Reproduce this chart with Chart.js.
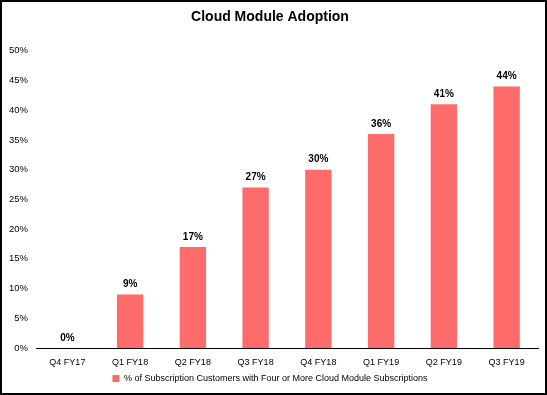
<!DOCTYPE html>
<html>
<head>
<meta charset="utf-8">
<script src="https://cdn.jsdelivr.net/npm/chart.js@4"></script>
<style>
  html, body { margin: 0; padding: 0; background: #fff; }
  .frame { width: 547px; height: 395px; box-sizing: border-box; border: 2px solid #000; }
  canvas { display: block; }
</style>
</head>
<body>
<div class="frame"><canvas id="chart" width="543" height="391"></canvas></div>
<script>
// ── Data ──────────────────────────────────────────────
const quarters = ['Q4 FY17', 'Q1 FY18', 'Q2 FY18', 'Q3 FY18', 'Q4 FY18', 'Q1 FY19', 'Q2 FY19', 'Q3 FY19'];
const adoptionPct = [0, 9, 17, 27, 30, 36, 41, 44];
const seriesName = '% of Subscription Customers with Four or More Cloud Module Subscriptions';
const yTicks = [0, 5, 10, 15, 20, 25, 30, 35, 40, 45, 50];

const FONT = "'Liberation Sans', Arial, Helvetica, sans-serif";
const BAR = '#fd6b6b';

// ── Value labels above bars ───────────────────────────
const valueLabels = {
  id: 'valueLabels',
  afterDatasetsDraw(chart) {
    const { ctx } = chart;
    const meta = chart.getDatasetMeta(0);
    ctx.save();
    ctx.font = `bold 10px ${FONT}`;
    ctx.fillStyle = '#000';
    ctx.textAlign = 'center';
    ctx.textBaseline = 'bottom';
    meta.data.forEach((bar, i) => {
      ctx.fillText(`${adoptionPct[i]}%`, bar.x, bar.y - 5);
    });
    ctx.restore();
  }
};

new Chart(document.getElementById('chart'), {
  type: 'bar',
  data: {
    labels: quarters,
    datasets: [{
      label: seriesName,
      data: adoptionPct,
      backgroundColor: BAR,
      borderWidth: 0,
      categoryPercentage: 0.84,
      barPercentage: 0.5
    }]
  },
  options: {
    responsive: false,
    animation: false,
    layout: { padding: { left: 0, right: 7, top: 0, bottom: 0 } },
    plugins: {
      title: {
        display: true,
        text: 'Cloud Module Adoption',
        color: '#000',
        font: { family: FONT, size: 14, weight: 'bold' },
        padding: { top: 7, bottom: 25 }
      },
      legend: {
        position: 'bottom',
        labels: {
          color: '#000',
          font: { family: FONT, size: 9 },
          boxWidth: 7,
          boxHeight: 7,
          padding: 2
        }
      },
      tooltip: { enabled: false }
    },
    scales: {
      x: {
        afterFit: s => { s.height = 24; },
        grid: { display: false, drawTicks: false },
        border: { display: true, color: '#000', width: 1 },
        ticks: { color: '#000', font: { family: FONT, size: 9 }, padding: 9, maxRotation: 0 }
      },
      y: {
        min: 0,
        max: 50,
        afterFit: s => { s.width = 34; },
        afterBuildTicks: s => { s.ticks = yTicks.map(v => ({ value: v })); },
        grid: { display: false, drawTicks: false },
        border: { display: false },
        ticks: {
          color: '#000',
          font: { family: FONT, size: 9.5 },
          padding: 8,
          callback: v => `${v}%`
        }
      }
    }
  },
  plugins: [valueLabels]
});
</script>
</body>
</html>
